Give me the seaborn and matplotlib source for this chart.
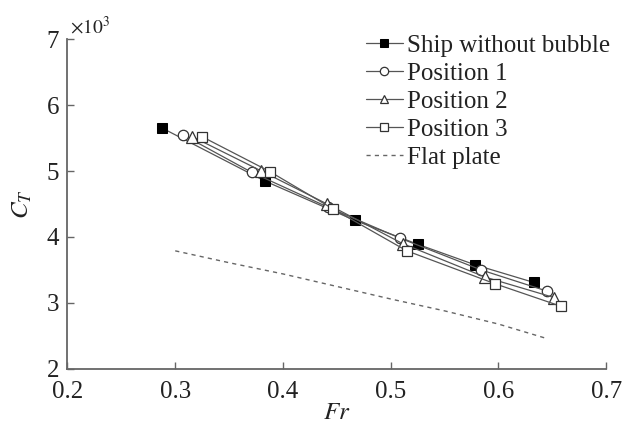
import matplotlib
matplotlib.use("Agg")
import matplotlib.pyplot as plt
import seaborn as sns
import pandas as pd

sns.set_theme(style="white")
plt.rcParams['font.family'] = ['Liberation Serif', 'DejaVu Serif']
plt.rcParams['mathtext.fontset'] = 'stix'

# Data (Fr, C_T x 10^3)
fr_ship = [0.288, 0.383, 0.467, 0.525, 0.578, 0.633]
ct_ship = [5.65, 4.85, 4.25, 3.89, 3.58, 3.31]

fr_p1 = [0.307, 0.371, 0.442, 0.509, 0.584, 0.645]
ct_p1 = [5.55, 4.98, 4.45, 3.98, 3.50, 3.18]

fr_p2 = [0.316, 0.380, 0.441, 0.511, 0.588, 0.652]
ct_p2 = [5.52, 5.00, 4.50, 3.90, 3.39, 3.08]

fr_p3 = [0.325, 0.388, 0.446, 0.515, 0.597, 0.658]
ct_p3 = [5.52, 4.99, 4.43, 3.79, 3.29, 2.95]

fr_flat = [0.30, 0.35, 0.40, 0.45, 0.50, 0.55, 0.60, 0.645]
ct_flat = [3.79, 3.61, 3.44, 3.25, 3.06, 2.88, 2.68, 2.46]

labels = ["Ship without bubble", "Position 1", "Position 2", "Position 3", "Flat plate"]
xticks = [0.2, 0.3, 0.4, 0.5, 0.6, 0.7]
yticks = [2, 3, 4, 5, 6, 7]

fig = plt.figure(figsize=(6.22, 4.25), dpi=100)
ax = fig.add_axes([0.1085, 0.132, 0.866, 0.776])

line_col = '#555555'
series = [
    (fr_ship, ct_ship, labels[0], dict(marker='s', markerfacecolor='black', markeredgecolor='black', markersize=7)),
    (fr_p1, ct_p1, labels[1], dict(marker='o', markerfacecolor='white', markeredgecolor='#333333', markersize=7.5, markeredgewidth=0.9)),
    (fr_p2, ct_p2, labels[2], dict(marker='^', markerfacecolor='white', markeredgecolor='#333333', markersize=8, markeredgewidth=0.9)),
    (fr_p3, ct_p3, labels[3], dict(marker='s', markerfacecolor='white', markeredgecolor='#333333', markersize=7.5, markeredgewidth=0.9)),
]
for fx, cy, lab, kw in series:
    df = pd.DataFrame({"Fr": fx, "CT": cy})
    sns.lineplot(data=df, x="Fr", y="CT", ax=ax, color=line_col, linewidth=0.9,
                 label=lab, sort=False, **kw)

df_flat = pd.DataFrame({"Fr": fr_flat, "CT": ct_flat})
sns.lineplot(data=df_flat, x="Fr", y="CT", ax=ax, color='#666666', linewidth=1.0,
             linestyle=(0, (3, 3)), label=labels[4], sort=False)

ax.set_xlim(0.2, 0.7)
ax.set_ylim(2, 7)
ax.set_xticks(xticks)
ax.set_yticks(yticks)
ax.set_xticklabels([f"{v:.1f}" for v in xticks])
ax.set_yticklabels([str(v) for v in yticks])
ax.tick_params(direction='in', length=5, width=1.0, labelsize=18, color='#666666',
               labelcolor='#222222', bottom=True, left=True)
ax.tick_params(axis='x', pad=9)
ax.tick_params(axis='y', pad=6)
for s in ['top', 'right']:
    ax.spines[s].set_visible(False)
for s in ['left', 'bottom']:
    ax.spines[s].set_color('#666666')
    ax.spines[s].set_linewidth(1.3)

ax.set_xlabel("$Fr$", fontsize=18, labelpad=-1, color='#222222')
ax.set_ylabel("$C_T$", fontsize=18, labelpad=9, color='#222222')
ax.text(0.005, 1.005, r"$\times10^3$", transform=ax.transAxes, fontsize=14,
        ha='left', va='bottom', color='#222222')

leg = ax.legend(loc='upper left', bbox_to_anchor=(0.535, 1.045), frameon=False,
                fontsize=18, handlelength=1.5, handletextpad=0.15, labelspacing=0.22,
                borderaxespad=0.0, markerscale=0.8)
for t in leg.get_texts():
    t.set_color('#222222')

fig.savefig("out.png", dpi=100)
